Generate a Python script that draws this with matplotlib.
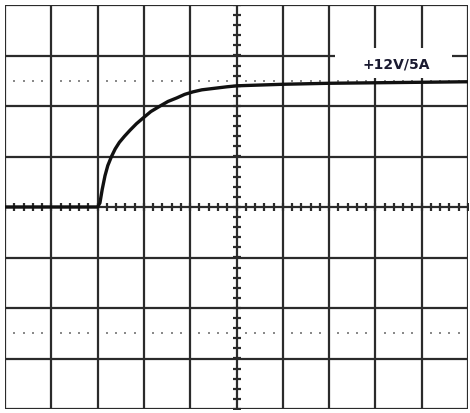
import matplotlib
matplotlib.use("Agg")
import matplotlib.pyplot as plt
import numpy as np
from matplotlib.patches import Rectangle

# Trace data (x in divisions 0..10, y in divisions -4..4)
trace_x = [0.0, 1.0, 2.0, 2.05, 2.1, 2.16, 2.22, 2.3, 2.38, 2.47, 2.58, 2.70, 2.84, 2.98, 3.15, 3.35, 3.52,
           3.71, 3.88, 4.06, 4.25, 4.43, 4.61, 4.79, 5.01, 6.0, 7.0, 8.0, 9.0, 10.0]
trace_y = [0.0, 0.0, 0.0, 0.08, 0.35, 0.62, 0.82, 1.0, 1.15, 1.28, 1.40, 1.52, 1.65, 1.76, 1.89, 2.0, 2.09,
           2.16, 2.23, 2.28, 2.32, 2.34, 2.36, 2.38, 2.40, 2.43, 2.45, 2.46, 2.47, 2.48]
ref_levels = [2.5, -2.5]
label_text = "+12V/5A"

fig = plt.figure(figsize=(4.70, 4.13), dpi=100)
ax = fig.add_axes([5/470, 4/413, 463/470, 404/413])
ax.set_xlim(0, 10)
ax.set_ylim(-4, 4)
ax.axis("off")

gc = "#2b2b2b"
for i in range(11):
    ax.plot([i, i], [-4, 4], color=gc, lw=1.6, zorder=2, solid_capstyle="butt")
for j in range(-4, 5):
    ax.plot([0, 10], [j, j], color=gc, lw=1.6, zorder=2, solid_capstyle="butt")

# center minor ticks
tx = np.arange(0, 10.001, 0.2)
ty = np.arange(-4, 4.001, 0.2)
ax.plot(tx, np.zeros_like(tx), ls="none", marker="|", ms=6, mew=1.6, color=gc, zorder=3)
ax.plot(np.full_like(ty, 5.0), ty, ls="none", marker="_", ms=6, mew=1.6, color=gc, zorder=3)

# label background box
ax.add_patch(Rectangle((7.13, 2.56), 2.52, 0.58, facecolor="white", edgecolor="none", zorder=4))

# dotted reference lines
for lvl in ref_levels:
    dx = np.array([i + f for i in range(10) for f in (0.2, 0.4, 0.6, 0.8)])
    ax.plot(dx, np.full_like(dx, lvl), ls="none", marker="s", ms=1.8, mew=0,
            color="#8a8a8a", zorder=5)

ax.plot(trace_x, trace_y, color="#111111", lw=2.4, zorder=6, solid_capstyle="round")

ax.text(8.44, 2.82, label_text, fontsize=10, fontweight="bold", color="#1a1a30",
        ha="center", va="center", family="DejaVu Sans", zorder=7)

fig.savefig("out.png", dpi=100)
